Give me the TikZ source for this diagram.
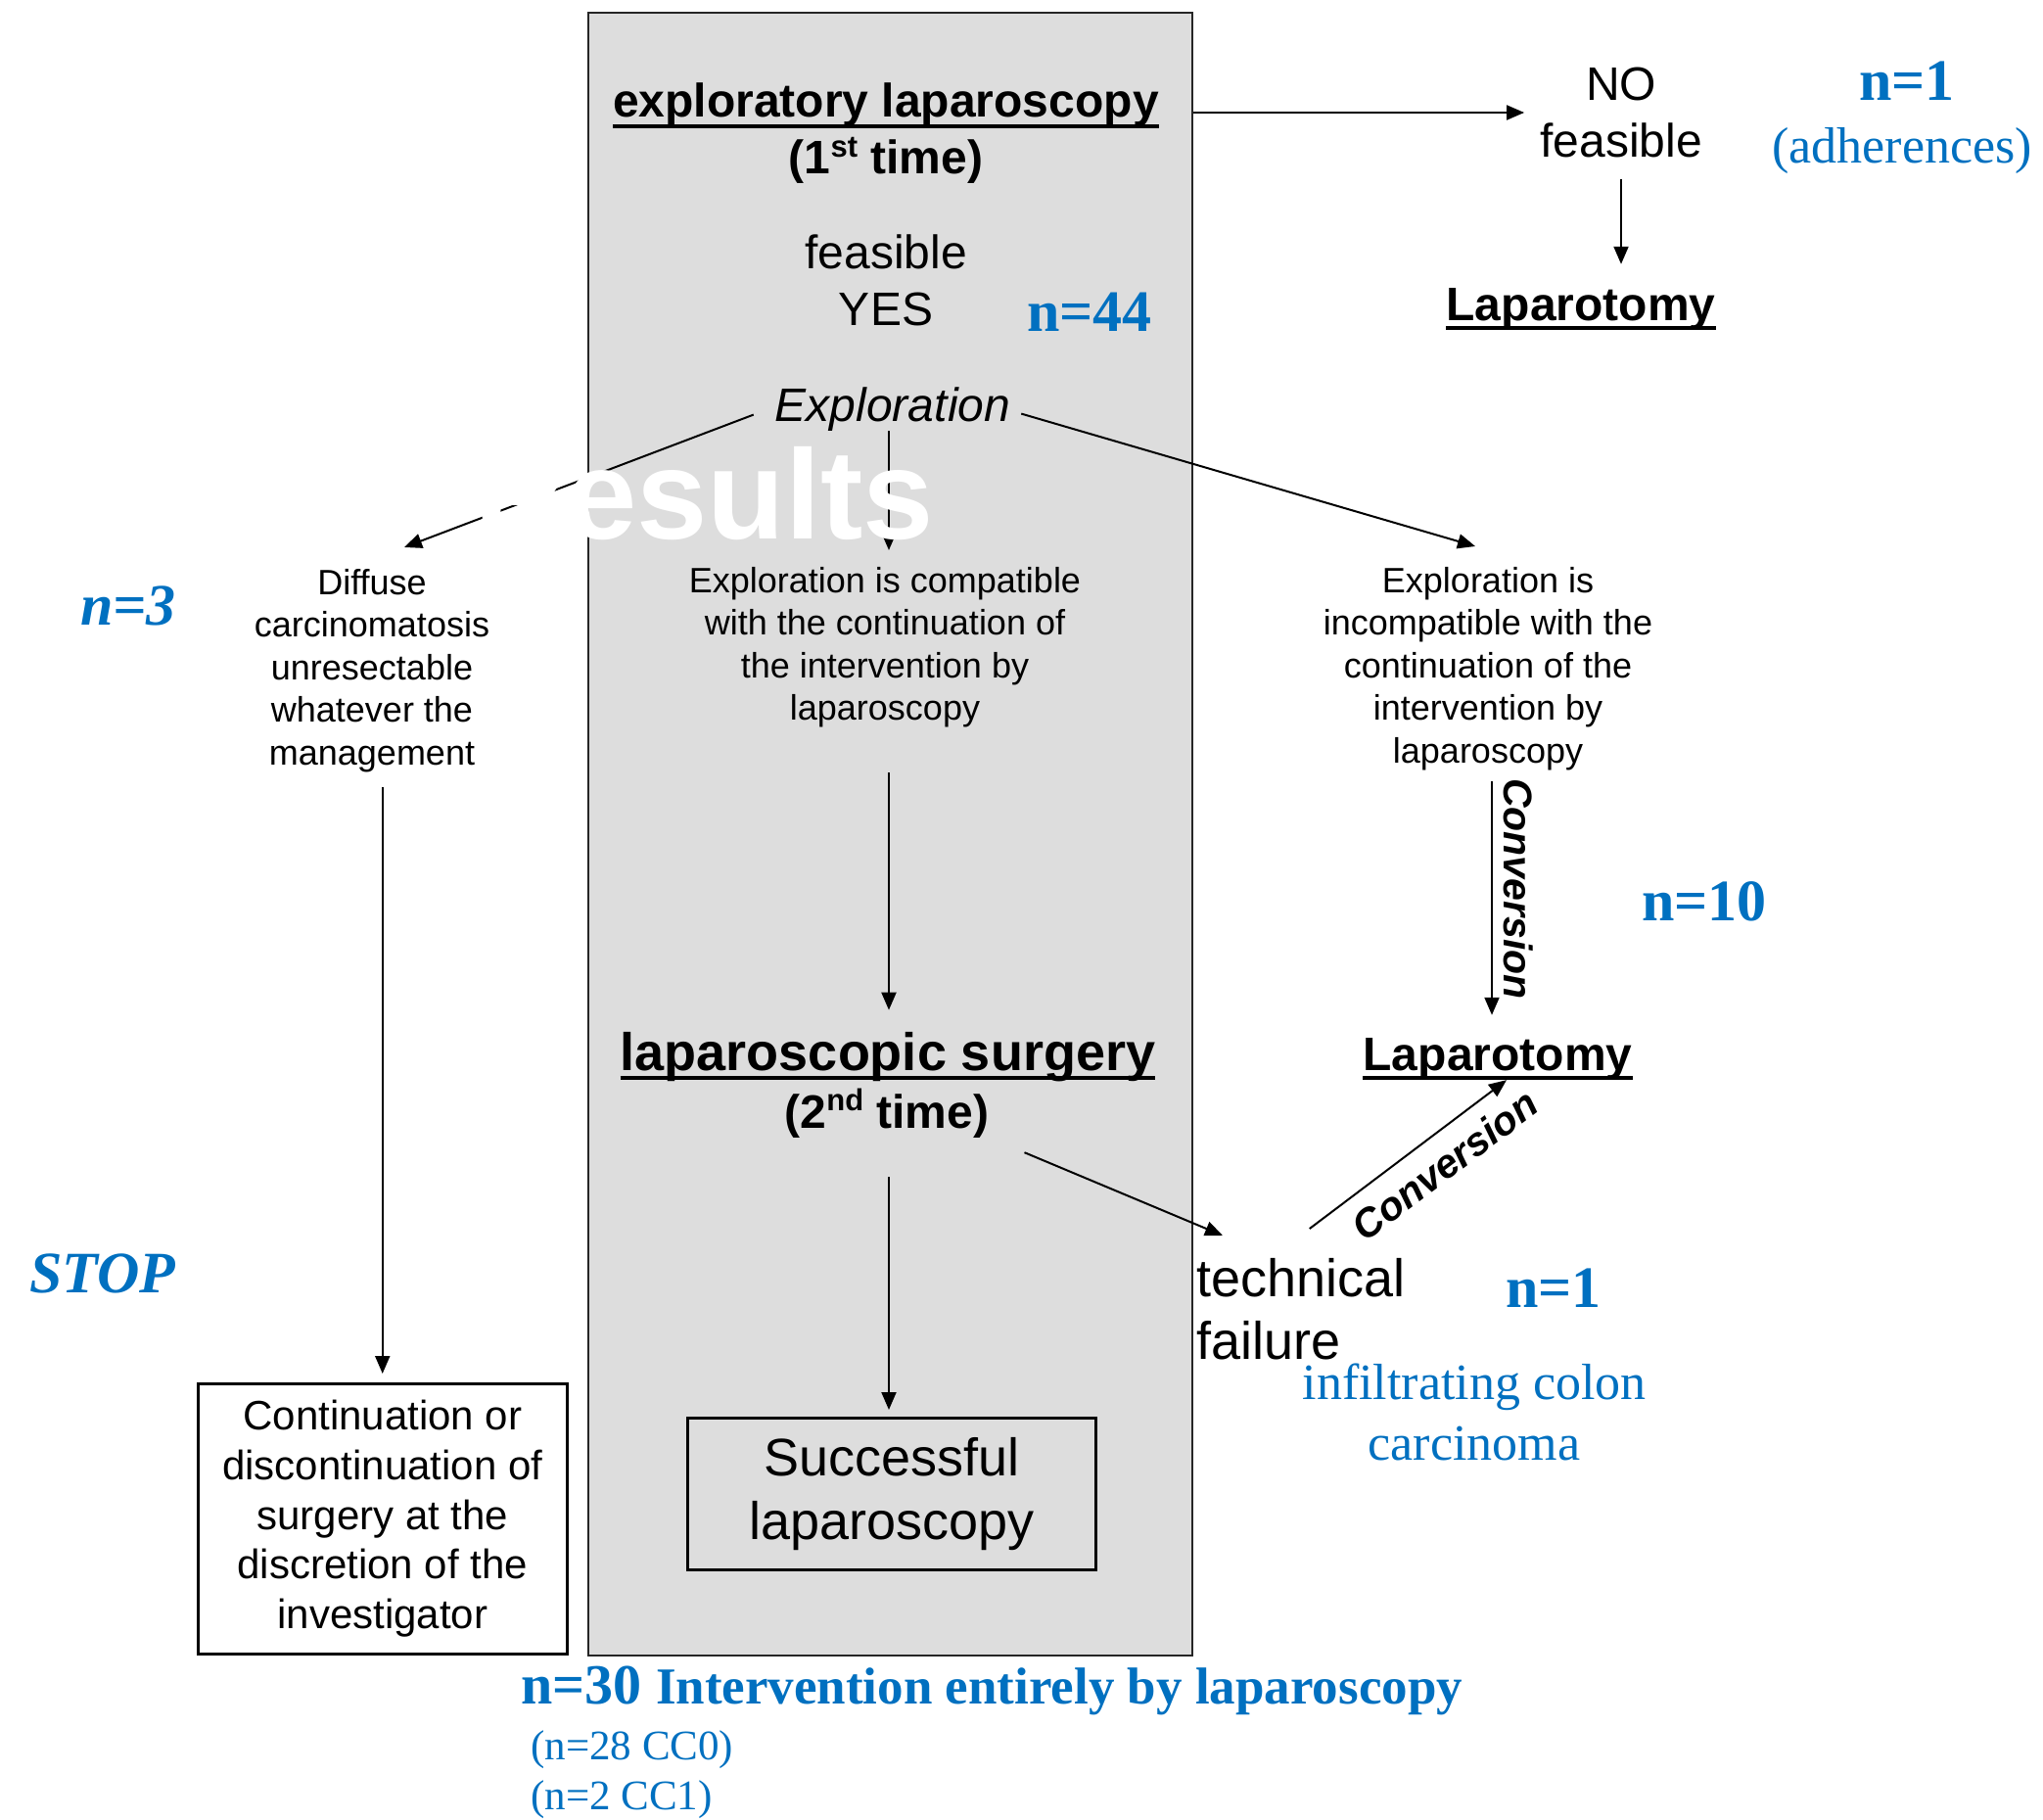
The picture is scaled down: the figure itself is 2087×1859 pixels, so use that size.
\documentclass[tikz,border=0pt]{standalone}
\usepackage{fontspec}
\setmainfont{Liberation Sans}
\newfontfamily\tms{Liberation Serif}
\usetikzlibrary{arrows.meta}
\definecolor{nblue}{HTML}{0070C0}
\definecolor{boxgray}{HTML}{DDDDDD}
\newcommand{\fsz}[2]{\fontsize{#1pt}{#2pt}\selectfont}
\begin{document}
\begin{tikzpicture}[x=1pt,y=-1pt,
  arr/.style={-{Triangle[length=18pt,width=15pt]}, line width=2pt},
  ulin/.style={line width=4pt},
  lbl/.style={inner sep=0pt, align=center},
  blk/.style={lbl, font=\fsz{36}{43.5}},
  big/.style={lbl, font=\fsz{48}{58}},
  bigb/.style={lbl, font=\bfseries\fsz{48}{58}},
  num/.style={lbl, text=nblue, font=\tms\bfseries\fsz{60}{60}},
  numi/.style={lbl, text=nblue, font=\tms\bfseries\itshape\fsz{60}{60}},
  bnote/.style={lbl, text=nblue, font=\tms\fsz{52}{62}},
  convl/.style={lbl, font=\bfseries\itshape\fsz{41}{41}},
  frame/.style={draw=black, line width=2.5pt}
]
\useasboundingbox (0,0) rectangle (2087,1859);
\fill[white] (0,0) rectangle (2087,1859);

% central gray panel
\node[draw=black!85, line width=2.2pt, fill=boxgray, minimum width=617pt, minimum height=1678pt, inner sep=0pt, anchor=north west] (mainbox) at (600,12) {};

% first time
\node[bigb, anchor=base] (el) at (905,120) {exploratory laparoscopy};
\draw[ulin] ([yshift=-9pt]el.base west) -- ([yshift=-9pt]el.base east);
\node[bigb, anchor=base] (t1) at (905,178) {(1\raisebox{0.36em}{\fsz{31}{31}st} time)};
\node[big, anchor=north] (fy) at (905,240) {feasible\\YES};
\node[num, anchor=base] (n44) at (1113,339) {n=44};
\node[lbl, font=\itshape\fsz{48}{58}, anchor=base] (expl) at (912,430) {Exploration};

% top right
\node[big, anchor=north] (nofeas) at (1656,69) {NO\\feasible};
\node[num, anchor=base] (n1a) at (1948,103) {n=1};
\node[bnote, anchor=base] (adh) at (1943,167) {(adherences)};
\node[bigb, anchor=base] (lap1) at (1615,327) {Laparotomy};
\draw[ulin] ([yshift=-8pt]lap1.base west) -- ([yshift=-8pt]lap1.base east);

% exploration outcomes
\node[numi, anchor=base] (n3) at (131,638) {n=3};
\node[blk, anchor=north] (diffuse) at (380,581) {Diffuse\\carcinomatosis\\unresectable\\whatever the\\management};
\node[blk, anchor=north] (compat) at (904,579) {Exploration is compatible\\with the continuation of\\the intervention by\\laparoscopy};
\node[blk, anchor=north] (incomp) at (1520,579) {Exploration is\\incompatible with the\\continuation of the\\intervention by\\laparoscopy};

\node[convl, rotate=-90, anchor=base] (conv1) at (1536,908) {Conversion};
\node[num, anchor=base] (n10) at (1741,940) {n=10};
\node[bigb, anchor=base] (lap2) at (1530,1093) {Laparotomy};
\draw[ulin] ([yshift=-8pt]lap2.base west) -- ([yshift=-8pt]lap2.base east);

% second time
\node[lbl, font=\bfseries\fsz{54}{58}, anchor=base] (lapsurg) at (907,1093) {laparoscopic surgery};
\draw[ulin] ([yshift=-8pt]lapsurg.base west) -- ([yshift=-8pt]lapsurg.base east);
\node[bigb, anchor=base] (t2) at (906,1152) {(2\raisebox{0.36em}{\fsz{31}{31}nd} time)};

\node[lbl, align=left, font=\fsz{54}{64}, anchor=north west] (tech) at (1222,1285) {technical\\failure};
\node[convl, rotate=37] (conv2) at (1476,1190) {Conversion};
\node[num, anchor=base] (n1b) at (1587,1335) {n=1};
\node[bnote, anchor=north] (infil) at (1506,1393) {infiltrating colon\\carcinoma};

\node[numi, anchor=base] (stop) at (105,1320) {STOP};

% result boxes
\node[frame, fill=white, minimum width=377pt, minimum height=276pt, inner sep=0pt, anchor=north west, align=center, font=\fsz{42}{50.75}] (contbox) at (201,1412) {Continuation or\\discontinuation of\\surgery at the\\discretion of the\\investigator};
\node[frame, fill=boxgray, minimum width=417pt, minimum height=155pt, inner sep=0pt, anchor=north west, align=center, font=\fsz{54}{65}] (succbox) at (701,1447) {Successful\\laparoscopy};

\node[lbl, anchor=base west, text=nblue, font=\tms\bfseries] (n30) at (532,1740) {\fsz{58}{58}n=30 \fsz{53}{53}Intervention entirely by laparoscopy};
\node[lbl, anchor=base west, text=nblue, font=\tms\fsz{43}{43}] (cc0) at (542,1797) {(n=28 CC0)};
\node[lbl, anchor=base west, text=nblue, font=\tms\fsz{43}{43}] (cc1) at (542,1848) {(n=2 CC1)};

% connectors
\draw[arr, shorten >=16pt] ([yshift=-103pt]mainbox.north east) -- ([yshift=-103pt]mainbox.north east -| nofeas.west);
\draw[arr, shorten <=22pt, shorten >=24pt] (nofeas.south) -- (nofeas.south |- lap1.north);
\draw[arr] ([xshift=-22pt,yshift=-6pt]expl.west) -- ([xshift=33pt,yshift=22pt]diffuse.north);
\draw[arr, shorten >=17pt] ([xshift=4pt]compat.north |- expl.south) -- ([xshift=4pt]compat.north);
\draw[arr] ([xshift=11pt,yshift=-5pt]expl.east) -- ([xshift=-13pt,yshift=21pt]incomp.north);
\draw[arr, shorten <=15pt, shorten >=9pt] (contbox.north |- diffuse.south) -- (contbox.north);
\draw[arr, shorten <=46pt, shorten >=22pt] ([xshift=4pt]compat.south) -- ([xshift=4pt]compat.south |- lapsurg.north);
\draw[arr, shorten <=11pt, shorten >=23pt] ([xshift=4pt]incomp.south) -- ([xshift=4pt]incomp.south |- lap2.north);
\draw[arr] ([xshift=36pt,yshift=-15pt]t2.south east) -- ([xshift=27pt,yshift=23pt]tech.north west);
\draw[arr] ([xshift=9pt,yshift=30pt]tech.north) -- ([xshift=9pt]lap2.south);
\draw[arr, shorten <=40pt, shorten >=7pt] ([xshift=2pt]t2.south) -- ([xshift=2pt]t2.south |- succbox.north);

% white title fragment on top
\node[inner sep=0pt, anchor=base west, text=white, font=\bfseries\fsz{130}{130}] (results) at (484,550) {Results};
\end{tikzpicture}
\end{document}
